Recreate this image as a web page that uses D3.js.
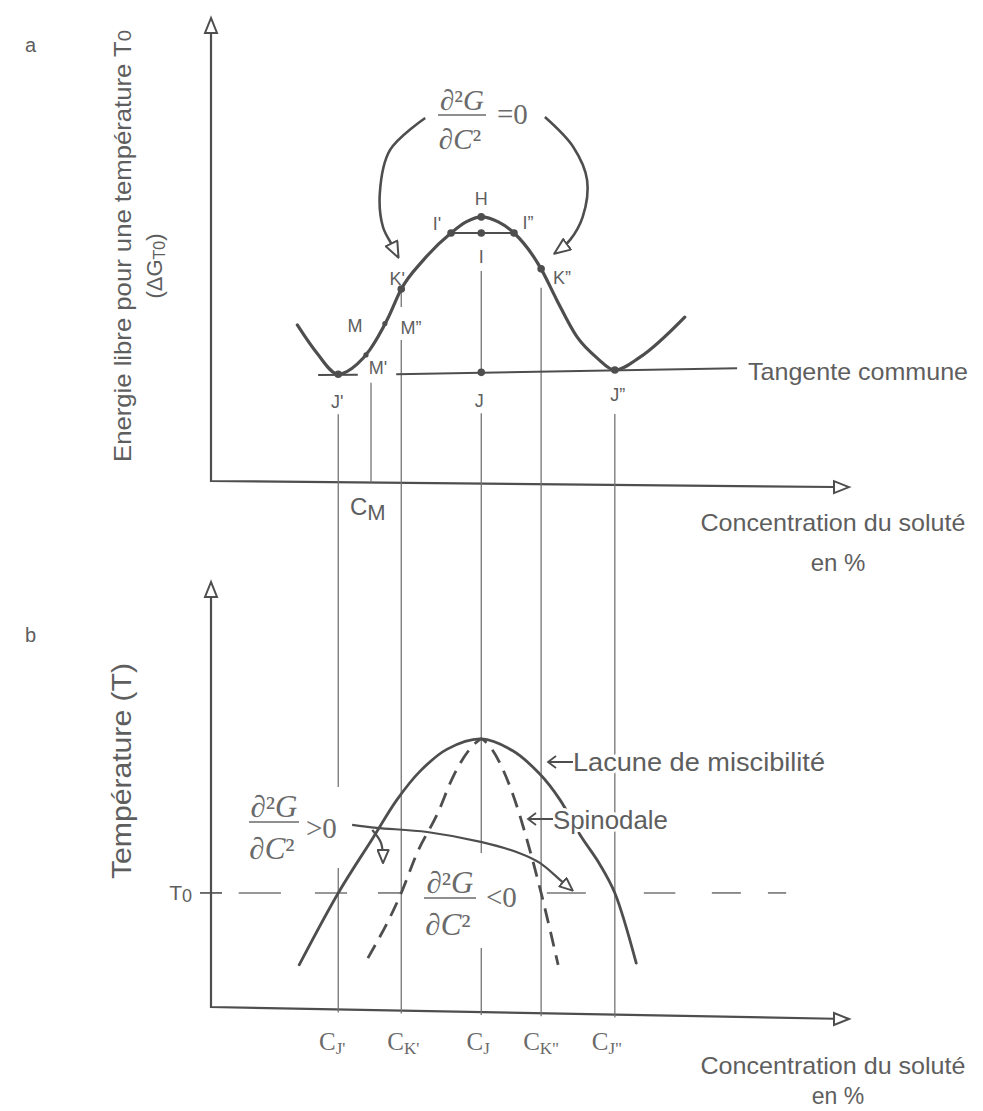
<!DOCTYPE html>
<html><head><meta charset="utf-8">
<script src="https://cdn.jsdelivr.net/npm/d3@7"></script>
<style>
body{margin:0;background:#fff;}
svg{display:block;}
text{font-family:"Liberation Sans", Arial, sans-serif; fill:#5e5e5e;}
.serif{font-family:"Liberation Serif","Times New Roman",serif; fill:#6a6a6a;}
</style></head><body>
<svg id="chart" width="983" height="1111"></svg>
<script>
// ---------- DATA ----------
// (a) free energy curve at T0 : [concentration %, G]
const freeEnergyCurve = [[13.7,33.7],[16.8,27.6],[20.2,23.0],[23.2,25.2],[25.2,28.3],[28.1,35.2],[30.2,41.5],[33.7,47.8],[38.1,53.7],[40.5,56.1],[42.9,57.2],[45.6,56.1],[48.1,53.7],[52.4,45.9],[54.9,39.1],[58.1,31.1],[61.3,26.5],[64.1,23.9],[68.1,26.7],[75.2,35.4]];
// common tangent, drawn in two pieces
const tangentPieces = [[[17.0,22.8],[23.3,22.9]], [[29.4,23.0],[83.5,24.3]]];
// marked points on curve (a)
const pointNames = ["H","I","I'","I''","K'","K''","J'","J","J''"];
const pointC     = [42.9, 42.9, 38.1, 48.1, 30.2, 52.4, 20.2, 42.9, 64.1];
const pointG     = [57.2, 53.7, 53.7, 53.7, 41.5, 45.9, 23.0, 23.4, 23.9];
// annotation arrows of (a)
const arrowLeftA  = [[34.0,78.7],[28.4,71.7],[26.8,62.4],[27.3,55.0],[28.9,50.7],[29.7,48.5]];
const arrowRightA = [[53.0,78.9],[57.5,72.4],[59.7,65.2],[59.0,57.2],[57.0,52.2],[54.6,49.3]];
// concentrations projected between both panels
const guideNames = ["J'","M","K'","J","K''","J''"];
const guideC     = [20.2, 25.4, 30.2, 42.9, 52.4, 64.1];
// (b) temperature diagram : [concentration %, T]
const T0 = 27.2;
const binodal  = [[14.0,10.2],[20.2,27.2],[25.7,40.2],[29.5,49.2],[33.2,56.0],[37.5,61.2],[42.9,63.6],[47.9,60.8],[52.2,55.3],[55.4,49.2],[58.6,40.9],[61.7,34.0],[64.1,27.2],[67.5,10.6]];
const spinodal = [[24.9,11.8],[30.2,27.2],[32.7,36.6],[36.0,46.1],[38.4,54.6],[42.2,62.9],[42.9,63.6],[43.8,62.6],[47.5,52.2],[50.6,37.4],[52.4,27.2],[55.1,10.2]];
const arrowMainB  = [[22.4,43.3],[26.3,42.6],[34.3,41.6],[43.0,39.2],[49.0,36.6],[52.2,34.3],[55.4,30.3],[57.3,27.9]];
const arrowSmallB = [[25.6,42.1],[27.0,39.0],[27.3,34.5]];
const t0Dashes = [[4.4,11.1],[16.5,21.6],[26.5,30.0],[53.3,59.5],[68.7,73.7],[79.5,84.1],[88.4,91.3]];
const bottomTickSubs = ["J'","K'","J","K\"","J\""];
const bottomTickC    = [20.2, 30.2, 42.9, 52.4, 64.1];

// ---------- SCALES ----------
const xS = d3.scaleLinear().domain([0,100]).range([211, 841]);
const yA = d3.scaleLinear().domain([0,100]).range([480, 20]);
const yB = d3.scaleLinear().domain([0,100]).range([1008, 585]);
const topAxisY = px => 481 + (px - 211) * 6 / 625;
const botAxisY = px => 1007 + (px - 211) * 12 / 637;

const ink = "#4e4e4e", thin = "#747474";
const svg = d3.select("#chart");
svg.append("rect").attr("width",983).attr("height",1111).attr("fill","#fff");
const defs = svg.append("defs");
function marker(id, len, wid){
  defs.append("marker").attr("id",id).attr("viewBox",`-1 -1 ${len+2} ${wid+2}`)
    .attr("refX",len-1).attr("refY",wid/2).attr("markerWidth",len+2).attr("markerHeight",wid+2)
    .attr("markerUnits","userSpaceOnUse").attr("orient","auto")
    .append("path").attr("d",`M0,0 L${len},${wid/2} L0,${wid} Z`)
    .attr("fill","#fff").attr("stroke",ink).attr("stroke-width",2).attr("stroke-linejoin","round");
}
marker("arrA",16,13);
marker("arrB",13,11);

const lineA = d3.line().x(d=>xS(d[0])).y(d=>yA(d[1]));
const lineB = d3.line().x(d=>xS(d[0])).y(d=>yB(d[1]));

// ---------- AXES ----------
function openHead(tip, dir){
  const [x,y]=tip; let pts;
  if(dir==="up") pts=[[x,y],[x-6,y+15],[x+6,y+15]];
  else pts=[[x,y],[x-15,y-6],[x-15,y+6]];
  svg.append("path").attr("d","M"+pts.join("L")+"Z").attr("fill","#fff").attr("stroke",ink).attr("stroke-width",2);
}
svg.append("path").attr("d",`M211,33 L211,${topAxisY(211)} L834,${topAxisY(834)}`).attr("fill","none").attr("stroke",ink).attr("stroke-width",2.2);
openHead([211,18],"up"); openHead([849,topAxisY(849)],"right");
svg.append("path").attr("d",`M211,597 L211,${botAxisY(211)} L834,${botAxisY(834)}`).attr("fill","none").attr("stroke",ink).attr("stroke-width",2.2);
openHead([211,582],"up"); openHead([849,botAxisY(849)],"right");

// ---------- GUIDE LINES ----------
function vseg(c, y1, y2){
  svg.append("line").attr("x1",xS(c)).attr("x2",xS(c)).attr("y1",y1).attr("y2",y2)
    .attr("stroke",thin).attr("stroke-width",1.3);
}
const gc = n => guideC[guideNames.indexOf(n)];
const bEnd = c => botAxisY(xS(c)) + 3;
vseg(gc("J'"), yA(23.0)+40, 787); vseg(gc("J'"), 868, bEnd(gc("J'")));
vseg(gc("M"), yA(22.9)+8, topAxisY(xS(gc("M"))));
vseg(gc("K'"), yA(41.5), 307); vseg(gc("K'"), 340, bEnd(gc("K'")));
vseg(gc("J"), yA(53.7)+38, yA(23.4)); vseg(gc("J"), yA(23.4)+41, 853); vseg(gc("J"), 948, bEnd(gc("J")));
vseg(gc("K''"), yA(45.9)+19, bEnd(gc("K''")));
vseg(gc("J''"), yA(23.9)+44, bEnd(gc("J''")));

// ---------- PANEL A CURVES ----------
svg.append("path").attr("d", lineA.curve(d3.curveMonotoneX)(freeEnergyCurve))
  .attr("fill","none").attr("stroke",ink).attr("stroke-width",3.2).attr("stroke-linecap","round");
tangentPieces.forEach(p=>{
  svg.append("path").attr("d", d3.line().x(d=>xS(d[0])).y(d=>yA(d[1]))(p))
    .attr("fill","none").attr("stroke",ink).attr("stroke-width",2);
});
svg.append("line").attr("x1",xS(pointC[2])).attr("x2",xS(pointC[3])).attr("y1",yA(pointG[2])).attr("y2",yA(pointG[3]))
  .attr("stroke",ink).attr("stroke-width",2);
[arrowLeftA, arrowRightA].forEach(a=>{
  svg.append("path").attr("d", d3.line().x(d=>xS(d[0])).y(d=>yA(d[1])).curve(d3.curveCatmullRom.alpha(0.5))(a))
    .attr("fill","none").attr("stroke",ink).attr("stroke-width",2.6).attr("marker-end","url(#arrA)");
});
pointNames.forEach((n,i)=>{
  svg.append("circle").attr("cx",xS(pointC[i])).attr("cy",yA(pointG[i])).attr("r",3.8).attr("fill",ink);
});
const labelOffset = {"H":[0,-12],"I":[0,30],"I'":[-14,-3],"I''":[14,-4],"K'":[-4,-4],"K''":[21,15],"J'":[-1,34],"J":[-2,35],"J''":[3,31]};
pointNames.forEach((n,i)=>{
  const o = labelOffset[n];
  svg.append("text").attr("x",xS(pointC[i])+o[0]).attr("y",yA(pointG[i])+o[1])
    .attr("text-anchor","middle").attr("font-size",18).text(n.replace("''","\u201D"));
});
const mx = xS(gc("M")), my = yA(22.9);
[["M",-16,-43],["M\u201D",40,-41],["M'",7,-1]].forEach(d=>{
  svg.append("text").attr("x",mx+d[1]).attr("y",my+d[2]).attr("text-anchor","middle").attr("font-size",18).text(d[0]);
});
[[27.6,34.0],[24.6,27.2]].forEach(p=>{
  svg.append("circle").attr("cx",xS(p[0])).attr("cy",yA(p[1])).attr("r",2.6).attr("fill",ink);
});

function fraction(cx, barY, size, barW){
  const t1 = svg.append("text").attr("class","serif").attr("x",cx).attr("y",barY-5).attr("text-anchor","middle").attr("font-size",size);
  t1.append("tspan").text("\u2202\u00B2"); t1.append("tspan").attr("font-style","italic").text("G");
  svg.append("line").attr("x1",cx-barW/2).attr("x2",cx+barW/2).attr("y1",barY).attr("y2",barY).attr("stroke","#6a6a6a").attr("stroke-width",1.6);
  const t2 = svg.append("text").attr("class","serif").attr("x",cx-2).attr("y",barY+size*1.18).attr("text-anchor","middle").attr("font-size",size);
  t2.append("tspan").text("\u2202"); t2.append("tspan").attr("font-style","italic").text("C"); t2.append("tspan").text("\u00B2");
}
fraction(462, 115, 29, 48);
svg.append("text").attr("class","serif").attr("x",497).attr("y",124).attr("font-size",29).text("=0");

svg.append("text").attr("x",748).attr("y",380).attr("font-size",24).attr("textLength",220).attr("lengthAdjust","spacingAndGlyphs").text("Tangente commune");

const cm = svg.append("text").attr("x",350).attr("y",515).attr("font-size",24);
cm.append("tspan").text("C"); cm.append("tspan").attr("dy",5).attr("font-size",22).text("M");

svg.append("text").attr("x",833).attr("y",531).attr("text-anchor","middle").attr("font-size",24).attr("textLength",265).attr("lengthAdjust","spacingAndGlyphs").text("Concentration du soluté");
svg.append("text").attr("x",838).attr("y",571).attr("text-anchor","middle").attr("font-size",24).text("en %");
const ya1 = svg.append("text").attr("transform","translate(131,246) rotate(-90)").attr("text-anchor","middle").attr("font-size",24)
  .attr("textLength",432).attr("lengthAdjust","spacingAndGlyphs");
ya1.append("tspan").text("Energie libre  pour une température T");
ya1.append("tspan").attr("font-size",19).text("0");
const ya2 = svg.append("text").attr("transform","translate(162,266) rotate(-90)").attr("text-anchor","middle").attr("font-size",22);
ya2.append("tspan").text("(\u0394G");
ya2.append("tspan").attr("font-size",16).attr("dy",3).text("T0");
ya2.append("tspan").attr("dy",-3).text(")");
svg.append("text").attr("x",25).attr("y",52).attr("font-size",20).text("a");

// ---------- PANEL B ----------
svg.append("text").attr("x",25).attr("y",642).attr("font-size",20).text("b");
svg.append("text").attr("transform","translate(131,771) rotate(-90)").attr("text-anchor","middle").attr("font-size",27)
  .attr("textLength",216).attr("lengthAdjust","spacingAndGlyphs").text("Température (T)");
svg.append("line").attr("x1",200).attr("x2",222).attr("y1",yB(T0)).attr("y2",yB(T0)).attr("stroke",ink).attr("stroke-width",1.6);
const t0l = svg.append("text").attr("x",192).attr("y",yB(T0)+7).attr("text-anchor","end").attr("font-size",21);
t0l.append("tspan").text("T"); t0l.append("tspan").attr("font-size",18).attr("dy",2).text("0");
t0Dashes.forEach(s=>{
  svg.append("line").attr("x1",xS(s[0])).attr("x2",xS(s[1])).attr("y1",yB(T0)).attr("y2",yB(T0)).attr("stroke",thin).attr("stroke-width",1.6);
});
svg.append("path").attr("d", lineB.curve(d3.curveCatmullRom.alpha(0.5))(binodal))
  .attr("fill","none").attr("stroke",ink).attr("stroke-width",2.8).attr("stroke-linecap","round");
svg.append("path").attr("d", lineB.curve(d3.curveMonotoneX)(spinodal))
  .attr("fill","none").attr("stroke",ink).attr("stroke-width",2.8).attr("stroke-dasharray","15,9");
svg.append("path").attr("d", d3.line().x(d=>xS(d[0])).y(d=>yB(d[1])).curve(d3.curveCatmullRom.alpha(0.5))(arrowMainB))
  .attr("fill","none").attr("stroke",ink).attr("stroke-width",2.2).attr("marker-end","url(#arrB)");
svg.append("path").attr("d", d3.line().x(d=>xS(d[0])).y(d=>yB(d[1])).curve(d3.curveCatmullRom.alpha(0.5))(arrowSmallB))
  .attr("fill","none").attr("stroke",ink).attr("stroke-width",2.2).attr("marker-end","url(#arrB)");
fraction(274, 822, 31, 50);
svg.append("text").attr("class","serif").attr("x",306).attr("y",838).attr("font-size",29).text(">0");
fraction(450, 898, 31, 52);
svg.append("text").attr("class","serif").attr("x",486).attr("y",907).attr("font-size",29).text("<0");
function halo(x,y,txt,len){
  svg.append("text").attr("x",x).attr("y",y).attr("font-size",25).attr("textLength",len).attr("lengthAdjust","spacingAndGlyphs")
    .attr("stroke","#fff").attr("stroke-width",6).attr("paint-order","stroke").text(txt);
}
function leftArrow(x,y){
  svg.append("path").attr("d",`M${x+26},${y} L${x+1},${y} M${x+9},${y-6} L${x+1},${y} L${x+9},${y+6}`)
    .attr("fill","none").attr("stroke",ink).attr("stroke-width",1.8);
}
halo(573,771,"Lacune de miscibilité",252); leftArrow(547,762);
halo(553,829,"Spinodale",115); leftArrow(527,819);

const bx = {"J'":-6,"K'":2,"J":-3,"K\"":0,"J\"":-8};
bottomTickC.forEach((c,i)=>{
  const t = svg.append("text").attr("class","serif").attr("x",xS(c)+bx[bottomTickSubs[i]]).attr("y",1050).attr("text-anchor","middle").attr("font-size",25);
  t.append("tspan").text("C");
  t.append("tspan").attr("font-size",17).attr("dy",4).text(bottomTickSubs[i].toUpperCase());
});
svg.append("text").attr("x",833).attr("y",1074).attr("text-anchor","middle").attr("font-size",24).attr("textLength",265).attr("lengthAdjust","spacingAndGlyphs").text("Concentration du soluté");
svg.append("text").attr("x",838).attr("y",1104).attr("text-anchor","middle").attr("font-size",23).text("en %");
</script>
</body></html>
